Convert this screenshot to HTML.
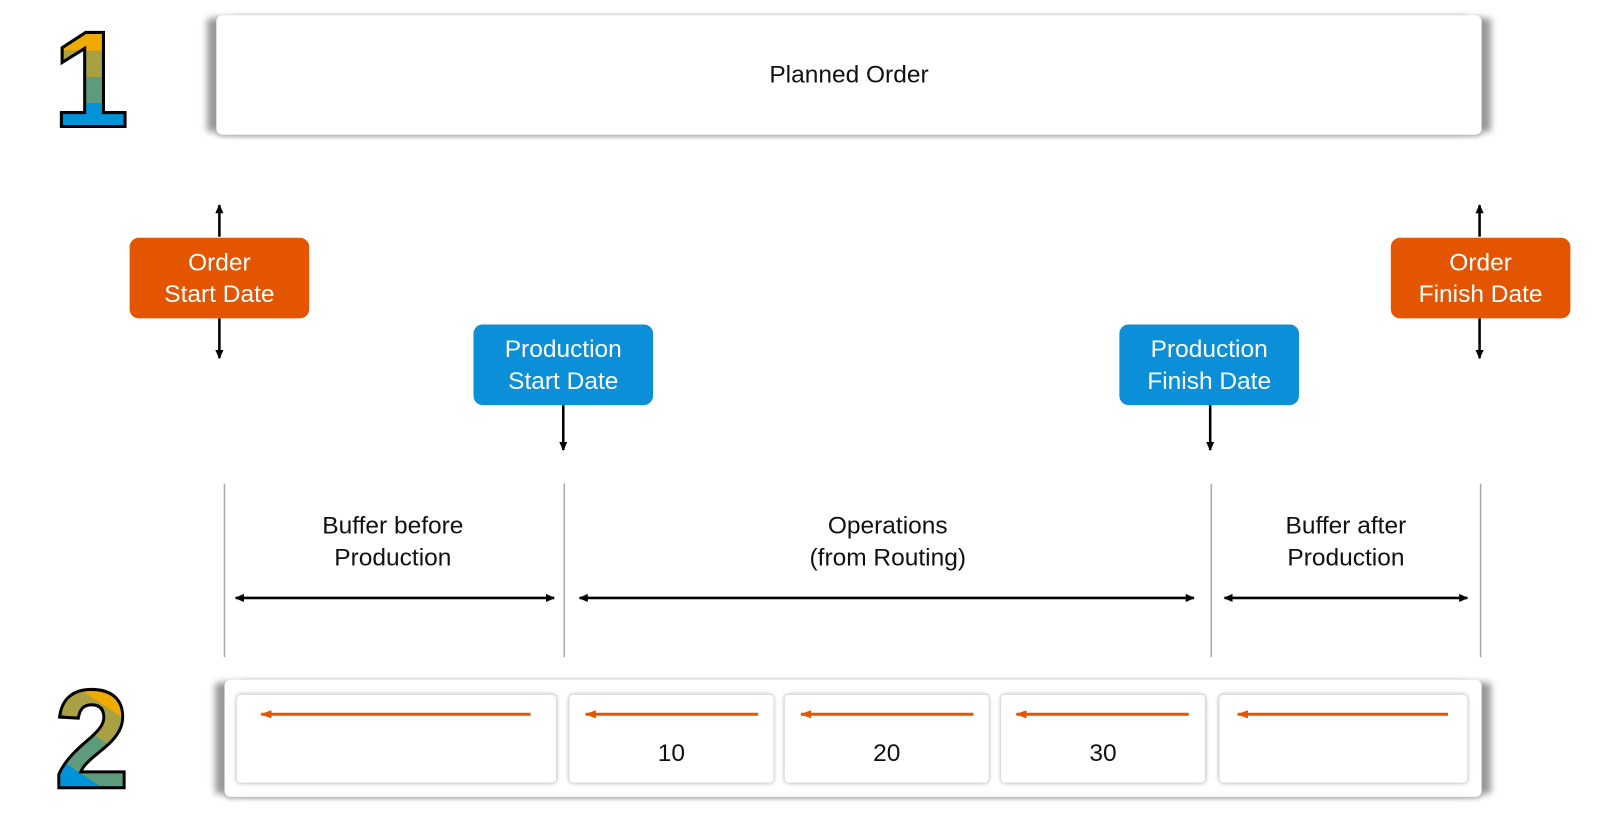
<!DOCTYPE html>
<html><head><style>
body{margin:0;width:1600px;height:814px;background:#fff;position:relative;overflow:hidden;font-family:"Liberation Sans",sans-serif;color:#111}
#w{position:absolute;left:0;top:0;width:1568px;height:798px;transform:scale(1.0204);transform-origin:0 0}
.abs{position:absolute}
.big{background:#fff;border-radius:6px;box-shadow:-12px 0 7px -3px #999,12px 0 7px -3px #999,0 2px 4px #bbb}
.tag{position:absolute;width:176px;height:79px;border-radius:9px;color:#fff;font-size:24px;line-height:31px;text-align:center;display:flex;align-items:center;justify-content:center}
.or{background:#E35500}.bl{background:#0A8FD8}
.lbl{position:absolute;font-size:24px;line-height:31px;text-align:center;width:300px}
.cell{position:absolute;top:681px;height:86px;background:#fff;border-radius:4px;box-shadow:0 0 4px #aaa;font-size:24px;text-align:center}
.cell span{position:absolute;left:0;right:0;top:44px}
</style></head><body><div id="w">
<svg class="abs" style="left:0;top:0" width="1568" height="798">
<defs>
<linearGradient id="g1" x1="0" y1="28" x2="0" y2="125" gradientUnits="userSpaceOnUse">
<stop offset="0.22" stop-color="#F0AB00"/><stop offset="0.22" stop-color="#A8A043"/>
<stop offset="0.49" stop-color="#A8A043"/><stop offset="0.49" stop-color="#5E9A7C"/>
<stop offset="0.75" stop-color="#5E9A7C"/><stop offset="0.75" stop-color="#0093D7"/>
</linearGradient>
<linearGradient id="g2" x1="120" y1="675" x2="55" y2="773" gradientUnits="userSpaceOnUse">
<stop offset="0.2" stop-color="#F0AB00"/><stop offset="0.2" stop-color="#A8A043"/>
<stop offset="0.45" stop-color="#A8A043"/><stop offset="0.45" stop-color="#5E9A7C"/>
<stop offset="0.78" stop-color="#5E9A7C"/><stop offset="0.78" stop-color="#0093D7"/>
</linearGradient>
<marker id="ab" markerWidth="10" markerHeight="10" refX="8" refY="5" orient="auto-start-reverse" markerUnits="userSpaceOnUse"><path d="M0,1 L9,5 L0,9z" fill="#000"/></marker>
<marker id="ao" markerWidth="12" markerHeight="12" refX="10" refY="6" orient="auto" markerUnits="userSpaceOnUse"><path d="M0,2 L11,6 L0,10z" fill="#E35500"/></marker>
</defs>
<text x="89" y="124" text-anchor="middle" font-family="Liberation Sans" font-weight="bold" font-size="134" fill="url(#g1)" stroke="#000" stroke-width="3">1</text>
<text x="90" y="772" text-anchor="middle" font-family="Liberation Sans" font-weight="bold" font-size="138" fill="url(#g2)" stroke="#000" stroke-width="3" textLength="74" lengthAdjust="spacingAndGlyphs">2</text>
<g stroke="#000" stroke-width="2.5" fill="none">
<line x1="215" y1="232" x2="215" y2="201" marker-end="url(#ab)"/>
<line x1="215" y1="312" x2="215" y2="351" marker-end="url(#ab)"/>
<line x1="1450" y1="232" x2="1450" y2="201" marker-end="url(#ab)"/>
<line x1="1450" y1="312" x2="1450" y2="351" marker-end="url(#ab)"/>
<line x1="552" y1="397" x2="552" y2="441" marker-end="url(#ab)"/>
<line x1="1186" y1="397" x2="1186" y2="441" marker-end="url(#ab)"/>
<line x1="231" y1="586" x2="543" y2="586" marker-start="url(#ab)" marker-end="url(#ab)"/>
<line x1="568" y1="586" x2="1170" y2="586" marker-start="url(#ab)" marker-end="url(#ab)"/>
<line x1="1200" y1="586" x2="1438" y2="586" marker-start="url(#ab)" marker-end="url(#ab)"/>
</g>
<g stroke="#aaa" stroke-width="1.5">
<line x1="220" y1="474" x2="220" y2="644"/><line x1="553" y1="474" x2="553" y2="644"/>
<line x1="1187" y1="474" x2="1187" y2="644"/><line x1="1451" y1="474" x2="1451" y2="644"/>
</g>
</svg>
<div class="abs big" style="left:212px;top:15px;width:1240px;height:117px;font-size:24px;line-height:117px;text-align:center">Planned Order</div>
<div class="tag or" style="left:127px;top:233px">Order<br>Start Date</div>
<div class="tag or" style="left:1363px;top:233px">Order<br>Finish Date</div>
<div class="tag bl" style="left:464px;top:318px">Production<br>Start Date</div>
<div class="tag bl" style="left:1097px;top:318px">Production<br>Finish Date</div>
<div class="lbl" style="left:235px;top:500px">Buffer before<br>Production</div>
<div class="lbl" style="left:720px;top:500px">Operations<br>(from Routing)</div>
<div class="lbl" style="left:1169px;top:500px">Buffer after<br>Production</div>
<div class="abs big" style="left:220px;top:666px;width:1232px;height:115px"></div>
<div class="cell" style="left:232px;width:313px"></div>
<div class="cell" style="left:558px;width:200px"><span>10</span></div>
<div class="cell" style="left:769px;width:200px"><span>20</span></div>
<div class="cell" style="left:981px;width:200px"><span>30</span></div>
<div class="cell" style="left:1195px;width:243px"></div>
<svg class="abs" style="left:0;top:0" width="1568" height="798">
<g stroke="#E35500" stroke-width="3">
<line x1="520" y1="700" x2="256" y2="700" marker-end="url(#ao)"/>
<line x1="743" y1="700" x2="574" y2="700" marker-end="url(#ao)"/>
<line x1="954" y1="700" x2="785" y2="700" marker-end="url(#ao)"/>
<line x1="1165" y1="700" x2="996" y2="700" marker-end="url(#ao)"/>
<line x1="1419" y1="700" x2="1213" y2="700" marker-end="url(#ao)"/>
</g></svg>
</div></body></html>
